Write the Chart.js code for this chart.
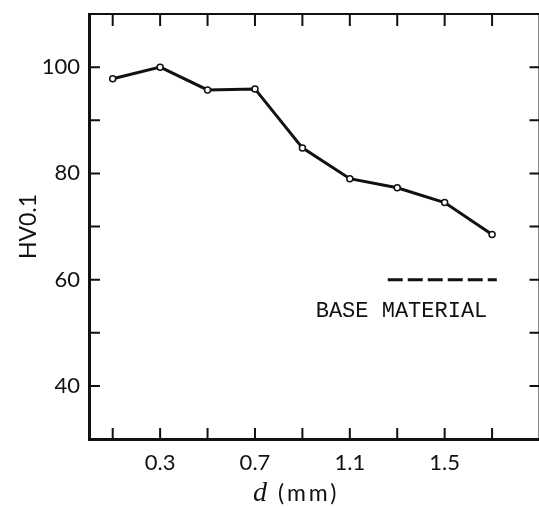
<!DOCTYPE html>
<html>
<head>
<meta charset="utf-8">
<script src="https://cdn.jsdelivr.net/npm/chart.js@4/dist/chart.umd.min.js"></script>
<style>
  html, body { margin: 0; padding: 0; background: #fff; overflow: hidden; }
  #wrap { width: 545px; height: 507px; }
</style>
</head>
<body>
<div id="wrap"><canvas id="chart" width="545" height="507"></canvas></div>
<script>
// ===== Data =====
const depths = [0.1, 0.3, 0.5, 0.7, 0.9, 1.1, 1.3, 1.5, 1.7];          // d (mm)
const hardness = [97.8, 100, 95.7, 95.9, 84.8, 79.0, 77.3, 74.5, 68.5]; // HV0.1
const baseX = [1.26, 1.72];
const baseY = [60, 60];
const xTickValues = [0.1, 0.3, 0.5, 0.7, 0.9, 1.1, 1.3, 1.5, 1.7];
const xLabelValues = [0.3, 0.7, 1.1, 1.5];
const yTickValues = [40, 50, 60, 70, 80, 90, 100];
const yLabelValues = [40, 60, 80, 100];

const INK = '#111';
const SANS = 'Lato, "Open Sans", sans-serif';

// inward ticks on all four sides, plus top/right frame
const frameTicks = {
  id: 'frameTicks',
  afterDraw(chart) {
    const { ctx, chartArea: a, scales: { x, y } } = chart;
    ctx.save();
    ctx.strokeStyle = INK;
    ctx.lineWidth = 2;
    ctx.beginPath();
    xTickValues.forEach(v => {
      const px = x.getPixelForValue(v);
      ctx.moveTo(px, a.bottom); ctx.lineTo(px, a.bottom - 11);
      ctx.moveTo(px, a.top); ctx.lineTo(px, a.top + 12);
    });
    yTickValues.forEach(v => {
      const py = y.getPixelForValue(v);
      ctx.moveTo(a.left, py); ctx.lineTo(a.left + 11, py);
      ctx.moveTo(a.right, py); ctx.lineTo(a.right - 10, py);
    });
    ctx.moveTo(a.left, a.top); ctx.lineTo(a.right, a.top);
    ctx.moveTo(a.right, a.top); ctx.lineTo(a.right, a.bottom);
    ctx.stroke();

    // legend text for the dashed line
    ctx.fillStyle = INK;
    ctx.font = '22px "Liberation Mono", monospace';
    ctx.textAlign = 'center';
    ctx.textBaseline = 'middle';
    ctx.fillText('BASE MATERIAL', x.getPixelForValue(1.318), y.getPixelForValue(54));

    // x axis title: italic d + (mm)
    const ty = 494;
    const cx = x.getPixelForValue(0.87);
    ctx.textAlign = 'left';
    ctx.font = 'italic 28px "Liberation Serif", serif';
    const dW = ctx.measureText('d').width;
    ctx.font = '23px ' + SANS;
    ctx.letterSpacing = '3px';
    const restW = ctx.measureText(' (mm)').width;
    ctx.letterSpacing = '0px';
    const sx = cx - (dW + restW) / 2;
    ctx.font = 'italic 28px "Liberation Serif", serif';
    ctx.fillText('d', sx, ty);
    ctx.font = '23px ' + SANS;
    ctx.letterSpacing = '3px';
    ctx.fillText(' (mm)', sx + dW + 2, ty);
    ctx.restore();
  }
};

new Chart(document.getElementById('chart'), {
  type: 'scatter',
  data: {
    datasets: [
      {
        data: depths.map((d, i) => ({ x: d, y: hardness[i] })),
        showLine: true,
        borderColor: INK,
        borderWidth: 3,
        pointRadius: 3,
        pointBorderWidth: 1.5,
        pointBackgroundColor: '#fff',
        pointBorderColor: INK,
      },
      {
        data: baseX.map((d, i) => ({ x: d, y: baseY[i] })),
        showLine: true,
        borderColor: INK,
        borderWidth: 3,
        borderDash: [15, 5],
        pointRadius: 0,
      }
    ]
  },
  options: {
    responsive: false,
    animation: false,
    layout: { padding: { top: 14, right: 4, left: 0, bottom: 0 } },
    plugins: { legend: { display: false }, tooltip: { enabled: false } },
    scales: {
      x: {
        type: 'linear',
        min: 0, max: 1.9,
        afterFit: s => { s.height = 68; s.paddingLeft = 0; s.paddingRight = 0; },
        afterBuildTicks: s => { s.ticks = xTickValues.map(v => ({ value: v })); },
        grid: { drawOnChartArea: false, drawTicks: false },
        border: { color: INK, width: 3 },
        ticks: {
          padding: 11,
          color: INK,
          font: { family: SANS, size: 22 },
          callback: v => xLabelValues.some(l => Math.abs(l - v) < 1e-6) ? v.toFixed(1) : ''
        }
      },
      y: {
        min: 30, max: 110,
        afterFit: s => { s.width = 89; s.paddingTop = 0; s.paddingBottom = 0; },
        afterBuildTicks: s => { s.ticks = yTickValues.map(v => ({ value: v })); },
        grid: { drawOnChartArea: false, drawTicks: false },
        border: { color: INK, width: 3 },
        title: {
          display: true,
          text: 'HV0.1',
          color: INK,
          font: { family: SANS, size: 23 },
          padding: { top: 15, bottom: 0 }
        },
        ticks: {
          padding: 9,
          color: INK,
          font: { family: SANS, size: 22 },
          callback: v => yLabelValues.includes(v) ? String(v) : ''
        }
      }
    }
  },
  plugins: [frameTicks]
});
</script>
</body>
</html>
